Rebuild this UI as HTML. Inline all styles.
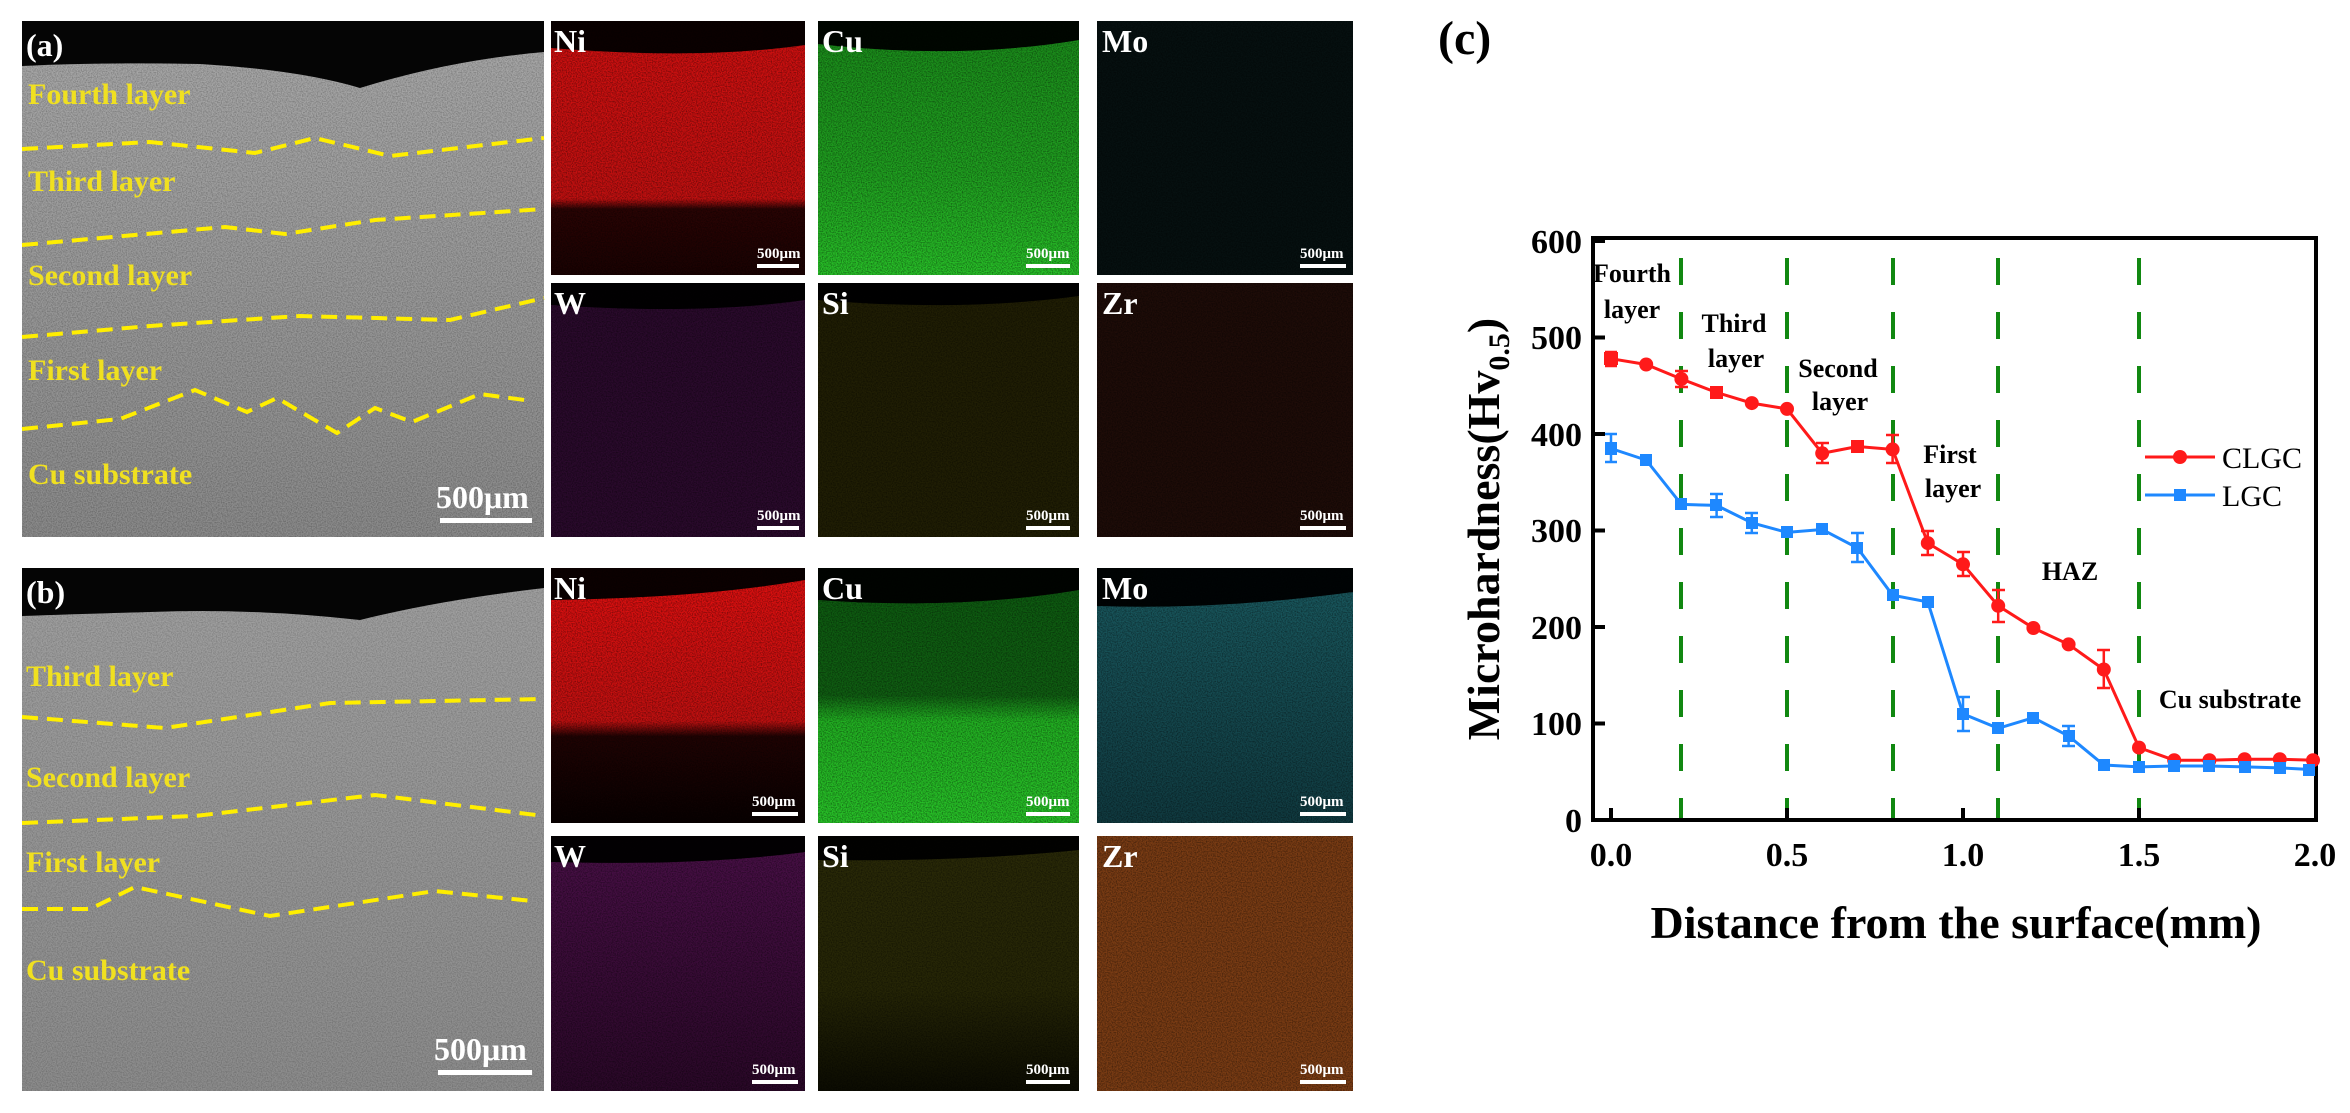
<!DOCTYPE html>
<html><head><meta charset="utf-8"><style>
html,body{margin:0;padding:0;background:#fff;}
svg{display:block;}
text{font-family:"Liberation Serif",serif;font-weight:bold;}
</style></head><body>
<svg width="2350" height="1113" viewBox="0 0 2350 1113" xmlns="http://www.w3.org/2000/svg">
<defs>
<filter id="nz" x="0" y="0" width="100%" height="100%">
<feTurbulence type="fractalNoise" baseFrequency="0.8" numOctaves="1" seed="3"/>
<feColorMatrix type="matrix" values="0 0 0 0 0  0 0 0 0 0  0 0 0 0 0  0 0 0 -2.2 1.4"/>
</filter>
<linearGradient id="semA" x1="0" y1="0" x2="0" y2="1"><stop offset="0" stop-color="#a8a8a8"/><stop offset="0.5" stop-color="#999"/><stop offset="1" stop-color="#8a8a8a"/></linearGradient>
<linearGradient id="semB" x1="0" y1="0" x2="0" y2="1"><stop offset="0" stop-color="#a0a0a0"/><stop offset="1" stop-color="#8c8c8c"/></linearGradient>
<linearGradient id="niA" x1="0" y1="0" x2="0" y2="1"><stop offset="0" stop-color="#d01010"/><stop offset="0.7" stop-color="#c01010"/><stop offset="0.74" stop-color="#2a0404"/><stop offset="1" stop-color="#1a0202"/></linearGradient>
<linearGradient id="cuA" x1="0" y1="0" x2="0" y2="1"><stop offset="0" stop-color="#1a8a1a"/><stop offset="0.6" stop-color="#20a020"/><stop offset="1" stop-color="#28c028"/></linearGradient>
<linearGradient id="niB" x1="0" y1="0" x2="0" y2="1"><stop offset="0" stop-color="#e01010"/><stop offset="0.6" stop-color="#c01010"/><stop offset="0.66" stop-color="#200303"/><stop offset="1" stop-color="#080101"/></linearGradient>
<linearGradient id="cuB" x1="0" y1="0" x2="0" y2="1"><stop offset="0" stop-color="#0d5a10"/><stop offset="0.5" stop-color="#105e12"/><stop offset="0.6" stop-color="#22b022"/><stop offset="1" stop-color="#28c228"/></linearGradient>
<linearGradient id="moB" x1="0" y1="0" x2="0" y2="1"><stop offset="0" stop-color="#1a5a60"/><stop offset="1" stop-color="#103a40"/></linearGradient>
<linearGradient id="siB" x1="0" y1="0" x2="0" y2="1"><stop offset="0" stop-color="#2a2a08"/><stop offset="0.6" stop-color="#262606"/><stop offset="1" stop-color="#0c0c02"/></linearGradient>
<linearGradient id="wB" x1="0" y1="0" x2="0" y2="1"><stop offset="0" stop-color="#4a1048"/><stop offset="1" stop-color="#2a0828"/></linearGradient>
</defs>
<rect width="2350" height="1113" fill="#fff"/>

<!-- Panel (a) SEM -->
<rect x="22" y="21" width="522" height="516" fill="url(#semA)"/>
<rect x="22" y="21" width="522" height="516" fill="#000" filter="url(#nz)" opacity="0.25"/>
<path d="M22 21 H544 V52 Q450 60 360 88 Q300 70 200 64 Q100 62 22 66 Z" fill="#050505"/>
<g fill="none" stroke="#ffee00" stroke-width="4" stroke-dasharray="16 9">
<polyline points="22,149 150,142 255,153 315,138 390,156 544,138"/>
<polyline points="22,245 225,227 285,234 375,220 544,209"/>
<polyline points="22,337 150,326 300,316 450,320 544,298"/>
<polyline points="22,429 120,419 195,390 247,412 277,398 337,433 375,408 412,422 480,394 532,401"/>
</g>
<g fill="#f0e020" font-size="30">
<text x="28" y="104">Fourth layer</text>
<text x="28" y="191">Third layer</text>
<text x="28" y="285">Second layer</text>
<text x="28" y="380">First layer</text>
<text x="28" y="484">Cu substrate</text>
</g>
<text x="436" y="508" fill="#fff" font-size="32">500μm</text>
<rect x="440" y="518" width="92" height="5" fill="#fff"/>
<text x="26" y="56" fill="#fff" font-size="32">(a)</text>

<!-- (a) maps -->
<rect x="551" y="21" width="254" height="254" fill="url(#niA)"/>
<rect x="818" y="21" width="261" height="254" fill="url(#cuA)"/>
<rect x="1097" y="21" width="256" height="254" fill="#061010"/>
<rect x="551" y="283" width="254" height="254" fill="#2a0a2c"/>
<rect x="818" y="283" width="261" height="254" fill="#201e04"/>
<rect x="1097" y="283" width="256" height="254" fill="#1e0c08"/>
<g fill="#000" opacity="0.95">
<path d="M551 21 H805 V45 Q700 60 551 48 Z"/>
<path d="M818 21 H1079 V40 Q960 60 818 44 Z"/>
<path d="M551 283 H805 V300 Q700 315 551 305 Z"/>
<path d="M818 283 H1079 V296 Q960 312 818 300 Z"/>
</g>
<!-- (b) SEM -->
<rect x="22" y="568" width="522" height="523" fill="url(#semB)"/>
<rect x="22" y="568" width="522" height="523" fill="#000" filter="url(#nz)" opacity="0.2"/>
<path d="M22 568 H544 V588 Q440 600 360 620 Q250 608 150 612 Q80 614 22 616 Z" fill="#050505"/>
<g fill="none" stroke="#ffee00" stroke-width="4" stroke-dasharray="16 9">
<polyline points="22,717 165,728 330,703 544,699"/>
<polyline points="22,823 195,816 375,795 544,816"/>
<polyline points="22,909 90,909 135,887 270,916 435,891 532,901"/>
</g>
<g fill="#f0e020" font-size="30">
<text x="26" y="686">Third layer</text>
<text x="26" y="787">Second layer</text>
<text x="26" y="872">First layer</text>
<text x="26" y="980">Cu substrate</text>
</g>
<text x="434" y="1060" fill="#fff" font-size="32">500μm</text>
<rect x="438" y="1070" width="94" height="5" fill="#fff"/>
<text x="26" y="603" fill="#fff" font-size="32">(b)</text>

<!-- (b) maps -->
<rect x="551" y="568" width="254" height="255" fill="url(#niB)"/>
<rect x="818" y="568" width="261" height="255" fill="url(#cuB)"/>
<rect x="1097" y="568" width="256" height="255" fill="url(#moB)"/>
<rect x="551" y="836" width="254" height="255" fill="url(#wB)"/>
<rect x="818" y="836" width="261" height="255" fill="url(#siB)"/>
<rect x="1097" y="836" width="256" height="255" fill="#7a3c14"/>
<g fill="#000" opacity="0.95">
<path d="M551 568 H805 V580 Q700 598 551 600 Z"/>
<path d="M818 568 H1079 V590 Q960 610 818 600 Z"/>
<path d="M1097 568 H1353 V592 Q1220 610 1097 606 Z"/>
<path d="M551 836 H805 V852 Q700 866 551 862 Z"/>
<path d="M818 836 H1079 V850 Q960 862 818 860 Z"/>
</g>
<!-- noise over maps (per rect) -->
<g opacity="0.45">
<rect x="551" y="21" width="254" height="254" filter="url(#nz)"/><rect x="818" y="21" width="261" height="254" filter="url(#nz)"/><rect x="1097" y="21" width="256" height="254" filter="url(#nz)"/>
<rect x="551" y="283" width="254" height="254" filter="url(#nz)"/><rect x="818" y="283" width="261" height="254" filter="url(#nz)"/><rect x="1097" y="283" width="256" height="254" filter="url(#nz)"/>
<rect x="551" y="568" width="254" height="255" filter="url(#nz)"/><rect x="818" y="568" width="261" height="255" filter="url(#nz)"/><rect x="1097" y="568" width="256" height="255" filter="url(#nz)"/>
<rect x="551" y="836" width="254" height="255" filter="url(#nz)"/><rect x="818" y="836" width="261" height="255" filter="url(#nz)"/><rect x="1097" y="836" width="256" height="255" filter="url(#nz)"/>
</g>
<g fill="#fff" font-size="32">
<text x="554" y="52">Ni</text><text x="822" y="52">Cu</text><text x="1102" y="52">Mo</text>
<text x="554" y="314">W</text><text x="822" y="314">Si</text><text x="1102" y="314">Zr</text>
<text x="554" y="599">Ni</text><text x="822" y="599">Cu</text><text x="1102" y="599">Mo</text>
<text x="554" y="867">W</text><text x="822" y="867">Si</text><text x="1102" y="867">Zr</text>
</g>
<g fill="#fff" font-size="15">
<text x="757" y="258">500μm</text><text x="1026" y="258">500μm</text><text x="1300" y="258">500μm</text>
<text x="757" y="520">500μm</text><text x="1026" y="520">500μm</text><text x="1300" y="520">500μm</text>
<text x="752" y="806">500μm</text><text x="1026" y="806">500μm</text><text x="1300" y="806">500μm</text>
<text x="752" y="1074">500μm</text><text x="1026" y="1074">500μm</text><text x="1300" y="1074">500μm</text>
</g>
<g fill="#fff">
<rect x="757" y="264" width="42" height="4"/><rect x="1026" y="264" width="44" height="4"/><rect x="1300" y="264" width="46" height="4"/>
<rect x="757" y="526" width="42" height="4"/><rect x="1026" y="526" width="44" height="4"/><rect x="1300" y="526" width="46" height="4"/>
<rect x="752" y="812" width="46" height="4"/><rect x="1026" y="812" width="44" height="4"/><rect x="1300" y="812" width="46" height="4"/>
<rect x="752" y="1080" width="46" height="4"/><rect x="1026" y="1080" width="44" height="4"/><rect x="1300" y="1080" width="46" height="4"/>
</g>

<!-- Chart (c) -->
<text x="1438" y="54" font-size="48">(c)</text>
<g stroke="#118811" stroke-width="4" stroke-dasharray="27 27">
<line x1="1681" y1="258" x2="1681" y2="818"/>
<line x1="1787" y1="258" x2="1787" y2="818"/>
<line x1="1893" y1="258" x2="1893" y2="818"/>
<line x1="1998" y1="258" x2="1998" y2="818"/>
<line x1="2139" y1="258" x2="2139" y2="818"/>
</g>
<rect x="1593" y="238" width="723" height="582" fill="none" stroke="#000" stroke-width="4"/>
<g stroke="#000" stroke-width="4">
<line x1="1593" y1="241" x2="1605" y2="241"/><line x1="1593" y1="337.5" x2="1605" y2="337.5"/>
<line x1="1593" y1="434" x2="1605" y2="434"/><line x1="1593" y1="530.5" x2="1605" y2="530.5"/>
<line x1="1593" y1="627" x2="1605" y2="627"/><line x1="1593" y1="723.5" x2="1605" y2="723.5"/>
<line x1="1611" y1="820" x2="1611" y2="808"/><line x1="1787" y1="820" x2="1787" y2="808"/>
<line x1="1963" y1="820" x2="1963" y2="808"/><line x1="2139" y1="820" x2="2139" y2="808"/>
</g>
<g font-size="34" text-anchor="end">
<text x="1582" y="253">600</text><text x="1582" y="349">500</text><text x="1582" y="446">400</text>
<text x="1582" y="542">300</text><text x="1582" y="639">200</text><text x="1582" y="735">100</text>
<text x="1582" y="832">0</text>
</g>
<g font-size="34" text-anchor="middle">
<text x="1611" y="866">0.0</text><text x="1787" y="866">0.5</text><text x="1963" y="866">1.0</text>
<text x="2139" y="866">1.5</text><text x="2315" y="866">2.0</text>
</g>
<text x="1956" y="938" font-size="46" text-anchor="middle">Distance from the surface(mm)</text>
<text transform="translate(1499,529) rotate(-90)" font-size="46" text-anchor="middle">Microhardness(Hv<tspan font-size="30" dy="10">0.5</tspan><tspan dy="-10">)</tspan></text>
<g font-size="26" text-anchor="middle">
<text x="1632" y="282">Fourth</text><text x="1632" y="318">layer</text>
<text x="1734" y="332">Third</text><text x="1736" y="367">layer</text>
<text x="1838" y="377">Second</text><text x="1840" y="410">layer</text>
<text x="1950" y="463">First</text><text x="1953" y="497">layer</text>
<text x="2070" y="580">HAZ</text>
<text x="2230" y="708">Cu substrate</text>
</g>
<g stroke="#ff1a1a" stroke-width="2.5">
<path d="M1611 352v14M1605 352h12M1605 366h12"/>
<path d="M1681.4 371v16M1675 371h13M1675 387h13"/>
<path d="M1822.2 443v20M1816 443h13M1816 463h13"/>
<path d="M1892.6 435v28M1886 435h13M1886 463h13"/>
<path d="M1927.8 531v24M1921 531h13M1921 555h13"/>
<path d="M1963 552v24M1957 552h13M1957 576h13"/>
<path d="M1998.2 590v32M1992 590h13M1992 622h13"/>
<path d="M2103.8 650v38M2097 650h13M2097 688h13"/>
</g>
<g stroke="#1e88ff" stroke-width="2.5">
<path d="M1611 434v28M1605 434h12M1605 462h12"/>
<path d="M1716.6 494v23M1710 494h13M1710 517h13"/>
<path d="M1751.8 513v20M1745 513h13M1745 533h13"/>
<path d="M1857.4 533v29M1851 533h13M1851 562h13"/>
<path d="M1963 697v34M1957 697h13M1957 731h13"/>
<path d="M2068.6 726v20M2062 726h13M2062 746h13"/>
</g>
<polyline fill="none" stroke="#ff1a1a" stroke-width="3" points="1611,358.7 1646.2,364.5 1681.4,379 1716.6,392.5 1751.8,403.1 1787,408.9 1822.2,453.3 1857.4,446.5 1892.6,449.4 1927.8,543.1 1963,564.3 1998.2,605.8 2033.4,628 2068.6,644.4 2103.8,669.5 2139,747.6 2174.2,760.2 2209.4,760.2 2244.6,759.2 2279.8,759.2 2315,760.2"/>
<polyline fill="none" stroke="#1e88ff" stroke-width="3" points="1611,448.5 1646.2,460.1 1681.4,504.4 1716.6,505.4 1751.8,522.8 1787,532.4 1822.2,529.5 1857.4,547.9 1892.6,595.2 1927.8,601.9 1963,713.9 1998.2,728.3 2033.4,717.7 2068.6,736 2103.8,765 2139,766.9 2174.2,766 2209.4,766 2244.6,766.9 2279.8,767.9 2315,769.8"/>
<g fill="#ff1a1a">
<rect x="1604" y="352" width="14" height="13"/>
<circle cx="1646.2" cy="364.5" r="7"/><circle cx="1681.4" cy="379" r="7"/>
<rect x="1710" y="386" width="13" height="13"/>
<circle cx="1751.8" cy="403.1" r="7"/><circle cx="1787" cy="408.9" r="7"/>
<circle cx="1822.2" cy="453.3" r="7"/><rect x="1851" y="440" width="13" height="13"/>
<circle cx="1892.6" cy="449.4" r="7"/><circle cx="1927.8" cy="543.1" r="7"/>
<circle cx="1963" cy="564.3" r="7"/><circle cx="1998.2" cy="605.8" r="7"/>
<circle cx="2033.4" cy="628" r="7"/><circle cx="2068.6" cy="644.4" r="7"/>
<circle cx="2103.8" cy="669.5" r="7"/><circle cx="2139" cy="747.6" r="7"/>
<circle cx="2174.2" cy="760.2" r="7"/><circle cx="2209.4" cy="760.2" r="7"/>
<circle cx="2244.6" cy="759.2" r="7"/><circle cx="2279.8" cy="759.2" r="7"/>
<circle cx="2313" cy="760.2" r="7"/>
</g>
<g fill="#1e88ff">
<rect x="1605" y="442" width="12" height="13"/><rect x="1640" y="454" width="12" height="12"/>
<rect x="1675" y="498" width="12" height="12"/><rect x="1710" y="499" width="12" height="12"/>
<rect x="1746" y="517" width="12" height="12"/><rect x="1781" y="526" width="12" height="12"/>
<rect x="1816" y="523" width="12" height="12"/><rect x="1851" y="542" width="12" height="12"/>
<rect x="1887" y="589" width="12" height="12"/><rect x="1922" y="596" width="12" height="12"/>
<rect x="1957" y="708" width="12" height="12"/><rect x="1992" y="722" width="12" height="12"/>
<rect x="2027" y="712" width="12" height="12"/><rect x="2063" y="730" width="12" height="12"/>
<rect x="2098" y="759" width="12" height="12"/><rect x="2133" y="761" width="12" height="12"/>
<rect x="2168" y="760" width="12" height="12"/><rect x="2203" y="760" width="12" height="12"/>
<rect x="2239" y="761" width="12" height="12"/><rect x="2274" y="762" width="12" height="12"/>
<rect x="2303" y="764" width="12" height="12"/>
</g>
<line x1="2145" y1="457" x2="2215" y2="457" stroke="#ff1a1a" stroke-width="3"/>
<circle cx="2180" cy="457" r="7" fill="#ff1a1a"/>
<line x1="2145" y1="495" x2="2215" y2="495" stroke="#1e88ff" stroke-width="3"/>
<rect x="2174" y="489" width="12" height="12" fill="#1e88ff"/>
<text x="2222" y="468" font-size="30" style="font-weight:normal">CLGC</text>
<text x="2222" y="506" font-size="30" style="font-weight:normal">LGC</text>
</svg>
</body></html>
